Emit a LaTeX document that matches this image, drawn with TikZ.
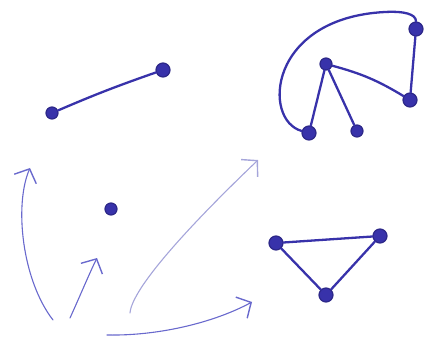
\documentclass[tikz,border=0pt]{standalone}
\usetikzlibrary{arrows.meta}
\definecolor{ink}{RGB}{56,50,170}
\definecolor{pencil}{RGB}{105,105,205}
\definecolor{faint}{RGB}{165,165,218}
\tikzset{
  vertex/.style={
    circle, draw=ink!80!black, fill=ink, line width=1.2pt,
    minimum size=12pt, inner sep=0pt,
  },
  bigvertex/.style={vertex, minimum size=14pt},
  edge/.style={draw=ink, line width=2.3pt, line cap=round},
  sketch/.style={
    -{Straight Barb[length=11pt, width=24pt, line width=1.4pt]},
    draw=pencil, line width=1.1pt, line cap=round,
  },
  faintsketch/.style={sketch, draw=faint},
}

\begin{document}
\begin{tikzpicture}[x=1pt, y=-1pt]
\useasboundingbox (0,0) rectangle (430,352);

% ---- single edge (top left) ------------------------------------------------
\node[vertex]    (a1) at (52,113) {};
\node[bigvertex] (a2) at (163,70) {};
\draw[edge] (a1) to[bend left=2] (a2);

% ---- lone vertex ------------------------------------------------------------
\node[vertex] (v) at (111,209) {};

% ---- five vertices (top right) ----------------------------------------------
\node[bigvertex] (b1) at (416,29)  {};
\node[vertex]    (b2) at (326,64)  {};
\node[bigvertex] (b3) at (410,100) {};
\node[bigvertex] (b4) at (309,133) {};
\node[vertex]    (b5) at (357,131) {};
\coordinate (looptop) at (385,12);

\draw[edge] (b4) .. controls (262,120) and (268,18) .. (looptop)
                 .. controls (404,11) and (416,14) .. (b1);
\draw[edge] (b1) -- (b3);
\draw[edge] (b2) to[bend left=8] (b3);
\draw[edge] (b2) -- (b4);
\draw[edge] (b2) -- (b5);

% ---- triangle ---------------------------------------------------------------
\node[bigvertex] (t1) at (276,243) {};
\node[bigvertex] (t2) at (380,236) {};
\node[bigvertex] (t3) at (326,295) {};
\draw[edge] (t1) -- (t2);
\draw[edge] (t2) -- (t3);
\draw[edge] (t3) -- (t1);

% ---- sketched arrows --------------------------------------------------------
\coordinate (tail1) at (53,320);  \coordinate (tip1) at (30,168);
\coordinate (tail2) at (70,318);  \coordinate (tip2) at (97,258);
\coordinate (tail3) at (130,313); \coordinate (tip3) at (258,160);
\coordinate (tail4) at (107,335); \coordinate (tip4) at (252,302);

\draw[sketch] (tail1) .. controls (22,280) and (14,205) .. (tip1);
\draw[sketch] (tail2) .. controls (80,296) and (90,272) .. (tip2);
\draw[faintsketch] (tail3) .. controls (132,288) and (190,225) .. (tip3);
\draw[sketch] (tail4) .. controls (160,336) and (215,322) .. (tip4);

\end{tikzpicture}
\end{document}
